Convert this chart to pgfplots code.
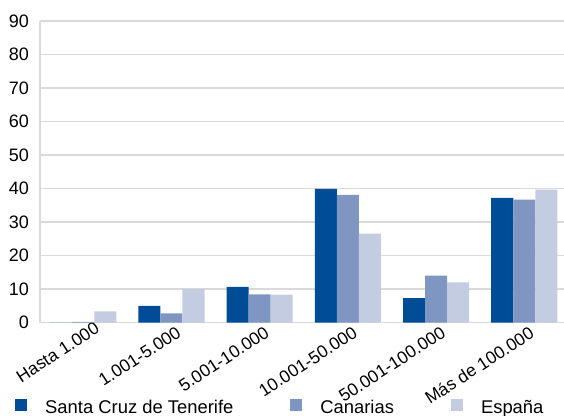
\documentclass[border=0pt]{standalone}
\usepackage{fontspec}
\setmainfont{Liberation Sans}
\usepackage{pgfplots}
\pgfplotsset{compat=1.18}
\definecolor{cstf}{HTML}{004C97}
\definecolor{ccan}{HTML}{7F96C3}
\definecolor{cesp}{HTML}{C3CCE0}
\definecolor{cgrid}{HTML}{D9D9D9}
\begin{document}
\begin{tikzpicture}[font=\fontsize{18bp}{21bp}\selectfont]
\useasboundingbox (-40bp,-93.5bp) rectangle (524bp,322.5bp);
\begin{axis}[
  at={(0,0)}, anchor=south west,
  scale only axis,
  width=524bp, height=301.5bp,
  xmin=-0.49, xmax=5.45,
  ymin=0, ymax=90,
  ytick={0,10,...,90},
  xtick={0,1,2,3,4,5},
  xticklabels={{Hasta 1.000\hspace*{-8bp}},{1.001-5.000},{5.001-10.000},{10.001-50.000},{50.001-100.000},{Más de 100.000}},
  /pgf/number format/assume math mode=true,
  axis x line*=bottom, axis y line*=left,
  axis line style={cgrid, line width=1.2bp},
  x axis line style={draw=none},
  ymajorgrids, grid style={cgrid, line width=1.2bp},
  major tick length=0pt,
  yticklabel style={inner sep=0pt, anchor=east, xshift=-11bp},
  xticklabel style={font=\fontsize{17.5bp}{21bp}\selectfont, xshift=4bp, yshift=-3bp, anchor=north east, rotate=33, inner sep=0pt},
  ybar, bar width=0.25,
  legend columns=3,
  legend style={at={(0,0)}, anchor=north west, xshift=-25bp, yshift=-76bp,
    draw=none, fill=none, inner sep=0pt, nodes={inner sep=0pt},
    font=\fontsize{18.4bp}{21bp}\selectfont,
    cells={anchor=base west},
    /tikz/every odd column/.append style={column sep=18bp},
    /tikz/every even column/.append style={column sep=57bp}},
  legend image code/.code={\fill[#1] (0bp,3bp) rectangle (12bp,15bp);},
  clip=false,
]
\addplot[fill=cstf, draw=none, bar shift=-0.25] coordinates {(0,0) (1,5.0) (2,10.6) (3,39.9) (4,7.3) (5,37.2)};
\addplot[fill=ccan, draw=none, bar shift=0] coordinates {(0,0.2) (1,2.7) (2,8.4) (3,38.1) (4,14.0) (5,36.7)};
\addplot[fill=cesp, draw=none, bar shift=0.25] coordinates {(0,3.3) (1,10.0) (2,8.3) (3,26.5) (4,12.0) (5,39.7)};
\legend{Santa Cruz de Tenerife, Canarias, España}
\end{axis}
\end{tikzpicture}
\end{document}
